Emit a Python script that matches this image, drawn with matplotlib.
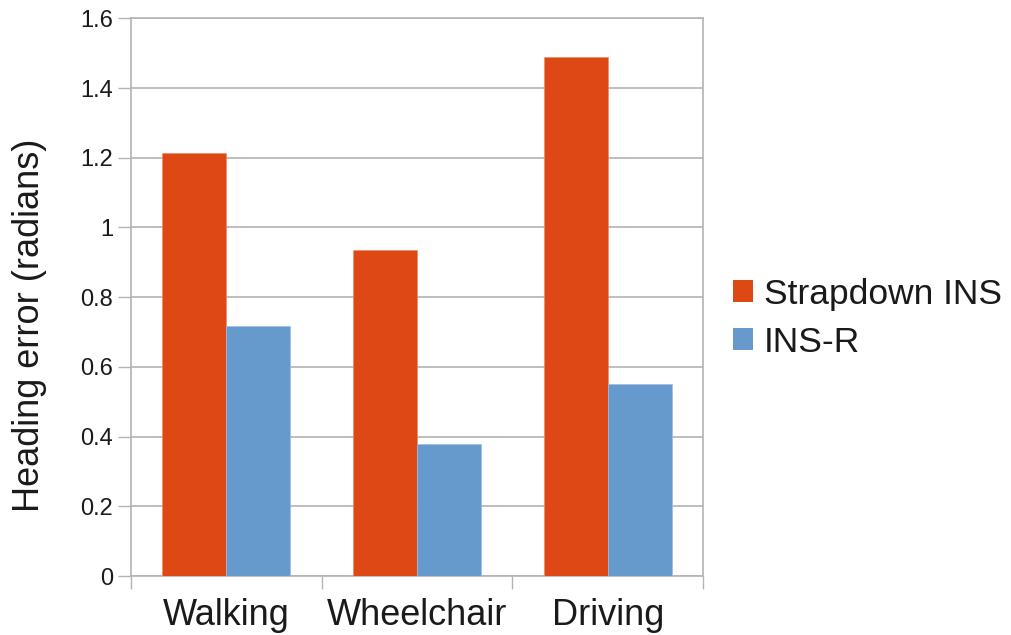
import numpy as np
import matplotlib.pyplot as plt
from matplotlib.patches import Patch

plt.rcParams['font.family'] = ['Liberation Sans', 'DejaVu Sans']

# Heading error per scenario
scenarios = ["Walking", "Wheelchair", "Driving"]
strapdown = [1.213, 0.935, 1.49]
ins_r = [0.718, 0.378, 0.55]
series_names = ["Strapdown INS", "INS-R"]
colors = ["#dd4814", "#6699cc"]

grid_color = "#b3b3b3"
text_color = "#1a1a1a"

fig = plt.figure(figsize=(10.11, 6.35), dpi=100)
ax = fig.add_axes([0.1296, 0.0929, 0.5658, 0.8783])

x = np.arange(len(scenarios))
w = 0.335
ax.bar(x - w / 2, strapdown, w, color=colors[0], edgecolor="#f08a66",
       linewidth=0.5, zorder=3)
ax.bar(x + w / 2, ins_r, w, color=colors[1], edgecolor="#9dbfe3",
       linewidth=0.5, zorder=3)

ax.set_xlim(-0.5, len(scenarios) - 0.5)
ax.set_ylim(0, 1.6)
ax.set_yticks(np.arange(0, 1.61, 0.2))
ax.set_yticklabels(["0", "0.2", "0.4", "0.6", "0.8", "1", "1.2", "1.4", "1.6"])

# category labels in the middle, tick marks on the boundaries
ax.set_xticks(x)
ax.set_xticklabels(scenarios, fontsize=26, color=text_color)
ax.set_xticks(np.arange(-0.5, len(scenarios)), minor=True)
ax.tick_params(axis="x", which="major", length=0, pad=16)
ax.tick_params(axis="x", which="minor", length=9.5, width=1, color=grid_color)
ax.tick_params(axis="y", length=9.5, width=1, color=grid_color, pad=3.5,
               labelsize=17, labelcolor=text_color)

ax.yaxis.grid(True, color=grid_color, linewidth=1.2, zorder=0)
ax.set_axisbelow(True)
for side in ["left", "bottom", "right", "top"]:
    ax.spines[side].set_color(grid_color)
    ax.spines[side].set_linewidth(1.2)

ax.set_ylabel("Heading error (radians)", fontsize=26, color=text_color)
ax.yaxis.set_label_coords(-0.147, 0.45)

handles = [Patch(facecolor=c, edgecolor="none") for c in colors]
fig.legend(handles, series_names, loc="center left",
           bbox_to_anchor=(0.725, 0.499), frameon=False, fontsize=25.5,
           handlelength=0.57, handleheight=0.57, handletextpad=0.3,
           labelspacing=0.42, borderaxespad=0, borderpad=0,
           labelcolor=text_color)

fig.savefig("out.png", dpi=100)
